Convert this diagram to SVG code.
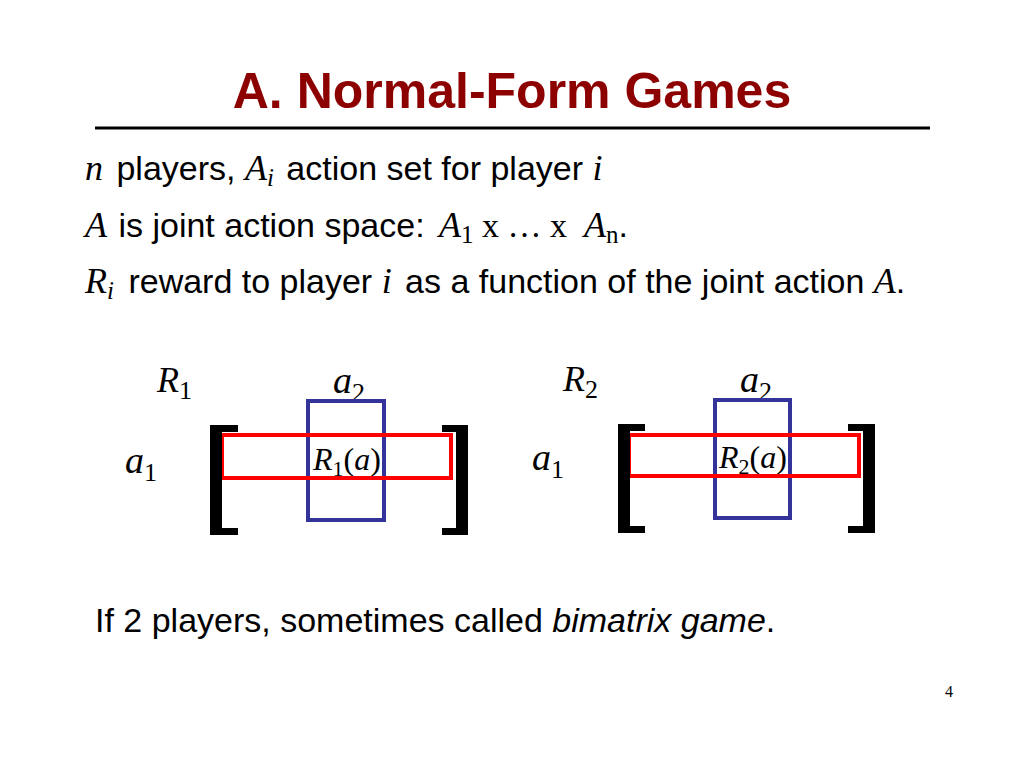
<svg xmlns="http://www.w3.org/2000/svg" width="1024" height="768" viewBox="0 0 1024 768">
<style>
.t{font-family:"Liberation Sans",Arial,sans-serif;font-size:34px;fill:#000}
.m{font-family:"Liberation Serif","Times New Roman",serif;font-style:italic;font-size:36px}
.s{font-family:"Liberation Serif","Times New Roman",serif;font-size:25px}
.r{font-family:"Liberation Serif","Times New Roman",serif;font-style:normal}
.mx{font-family:"Liberation Serif","Times New Roman",serif;font-style:italic;fill:#000}
.title{font-family:"Liberation Sans",Arial,sans-serif;font-weight:bold;font-size:50px;fill:#8C0000}
.red{fill:none;stroke:#FF0000;stroke-width:4}
.blue{fill:#fff;stroke:#333399;stroke-width:4}
.br{fill:#000}
</style>
<rect width="1024" height="768" fill="#fff"/>
<g id="title">
<text x="512" y="108" text-anchor="middle" class="title">A. Normal-Form Games</text>
<rect x="95" y="126.5" width="835" height="3" fill="#000"/>
</g>
<g id="body">
<text class="t" x="85" y="180"><tspan class="m">n</tspan><tspan dx="4"> players, </tspan><tspan class="m">A</tspan><tspan class="s" font-style="italic" dy="6">i</tspan><tspan dy="-6" dx="3"> action set for player </tspan><tspan class="m">i</tspan></text>
<text class="t" x="85" y="237"><tspan class="m">A</tspan><tspan dx="2"> is joint action space: </tspan><tspan class="m" dx="5">A</tspan><tspan class="s" dy="6">1</tspan><tspan class="r" dy="-6" font-size="34"> x … x&#160; </tspan><tspan class="m">A</tspan><tspan class="s" dy="6">n</tspan><tspan dy="-6">.</tspan></text>
<text class="t" x="85" y="293"><tspan class="m">R</tspan><tspan class="s" font-style="italic" dy="6">i</tspan><tspan dy="-6" dx="5"> reward to player </tspan><tspan class="m">i</tspan><tspan dx="4"> as a function of the joint action </tspan><tspan class="m">A</tspan>.</text>
</g>
<g id="matrix1">
<text class="mx" x="333" y="393" font-size="38">a<tspan class="r" font-size="26" dy="8">2</tspan></text>
<rect class="blue" x="308" y="401" width="76" height="119"/>
<text class="mx" x="313" y="470" font-size="32">R<tspan class="r" font-size="22" dy="6">1</tspan><tspan class="r" dy="-6">(</tspan>a<tspan class="r">)</tspan></text>
<rect class="red" x="222" y="435" width="229" height="43"/>
<rect class="br" x="210" y="425" width="12" height="110"/>
<rect class="br" x="210" y="425" width="28" height="7"/>
<rect class="br" x="210" y="528" width="28" height="7"/>
<rect class="br" x="456" y="425" width="12" height="110"/>
<rect class="br" x="442" y="425" width="26" height="7"/>
<rect class="br" x="442" y="528" width="26" height="7"/>
<text class="mx" x="157" y="392" font-size="36">R<tspan class="r" font-size="26" dy="7">1</tspan></text>
<text class="mx" x="125" y="473" font-size="38">a<tspan class="r" font-size="26" dy="8">1</tspan></text>
</g>
<g id="matrix2">
<text class="mx" x="740" y="392" font-size="38">a<tspan class="r" font-size="26" dy="8">2</tspan></text>
<rect class="blue" x="715" y="400" width="75" height="118"/>
<text class="mx" x="719" y="468" font-size="32">R<tspan class="r" font-size="22" dy="6">2</tspan><tspan class="r" dy="-6">(</tspan>a<tspan class="r">)</tspan></text>
<rect class="red" x="629" y="435" width="230" height="41"/>
<rect class="br" x="618" y="424" width="12" height="109"/>
<rect class="br" x="618" y="424" width="27" height="7"/>
<rect class="br" x="618" y="526" width="27" height="7"/>
<rect class="br" x="863" y="424" width="12" height="109"/>
<rect class="br" x="848" y="424" width="27" height="7"/>
<rect class="br" x="848" y="526" width="27" height="7"/>
<text class="mx" x="563" y="391" font-size="36">R<tspan class="r" font-size="26" dy="7">2</tspan></text>
<text class="mx" x="532" y="470" font-size="38">a<tspan class="r" font-size="26" dy="8">1</tspan></text>
</g>
<g id="footer">
<text class="t" x="95" y="632">If 2 players, sometimes called <tspan font-style="italic">bimatrix game</tspan>.</text>
<text x="945" y="697" font-family="Liberation Serif,serif" font-size="16">4</text>
</g>
</svg>
